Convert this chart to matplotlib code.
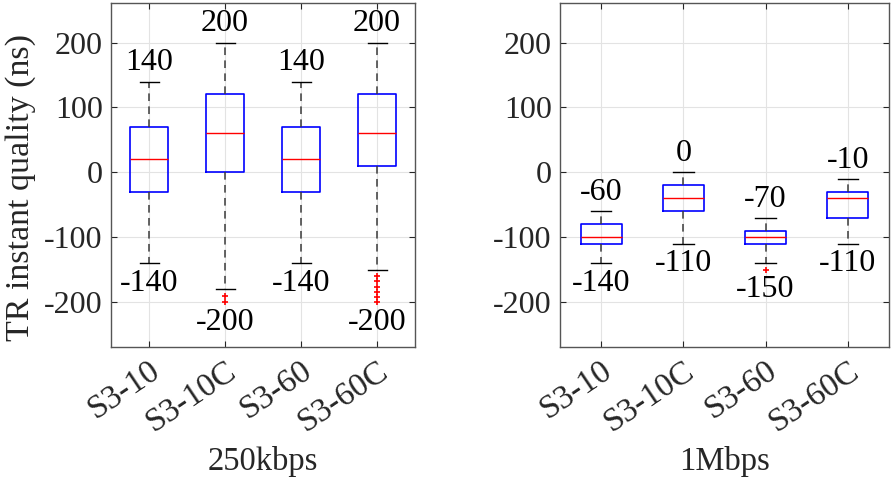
import matplotlib.pyplot as plt
from matplotlib.transforms import ScaledTranslation

plt.rcParams['font.family'] = ['Liberation Serif', 'DejaVu Serif']
plt.rcParams['axes.unicode_minus'] = False

labels = ['S3-10', 'S3-10C', 'S3-60', 'S3-60C']
groups = ['250kbps', '1Mbps']

# box statistics (ns)
q1 = {'250kbps': [-30, 0, -30, 10], '1Mbps': [-110, -60, -110, -70]}
med = {'250kbps': [20, 60, 20, 60], '1Mbps': [-100, -40, -100, -40]}
q3 = {'250kbps': [70, 120, 70, 120], '1Mbps': [-80, -20, -90, -30]}
whislo = {'250kbps': [-140, -180, -140, -150], '1Mbps': [-140, -110, -140, -110]}
whishi = {'250kbps': [140, 200, 140, 200], '1Mbps': [-60, 0, -70, -10]}
fliers = {
    '250kbps': [[], [-190, -200], [], [-160, -168, -176, -184, -192, -200]],
    '1Mbps': [[], [], [-150], []],
}

fig = plt.figure(figsize=(8.91, 4.79), dpi=100)
positions = [[0.1246, 0.2756, 0.3412, 0.7182], [0.6285, 0.2756, 0.3692, 0.7182]]
dark = '#262626'

for pos, g in zip(positions, groups):
    ax = fig.add_axes(pos)
    stats = []
    for i, name in enumerate(labels):
        stats.append({'label': name, 'q1': q1[g][i], 'med': med[g][i], 'q3': q3[g][i],
                      'whislo': whislo[g][i], 'whishi': whishi[g][i],
                      'fliers': fliers[g][i]})
    ax.bxp(stats, positions=range(1, 5), widths=0.5, showfliers=True,
           boxprops=dict(color='blue', linewidth=1.2),
           medianprops=dict(color='red', linewidth=1.0),
           whiskerprops=dict(color='#3a3a3a', linewidth=1.1, linestyle=(0, (5, 3.5))),
           capprops=dict(color='black', linewidth=1.0),
           flierprops=dict(marker='+', markeredgecolor='red', markersize=5,
                           markeredgewidth=1.2, linestyle='none'),
           capwidths=0.25, zorder=3)

    # max / min annotations
    for i in range(4):
        allv = [whislo[g][i], whishi[g][i]] + fliers[g][i]
        hi, lo = max(allv), min(allv)
        ax.annotate(f'{hi:d}', (i + 1, hi), xytext=(0, 3), textcoords='offset points',
                    ha='center', va='bottom', fontsize=23, color='black')
        ax.annotate(f'{lo:d}', (i + 1, lo), xytext=(0, -4), textcoords='offset points',
                    ha='center', va='top', fontsize=23, color='black')

    ax.set_xlim(0.5, 4.5)
    ax.set_ylim(-269, 261)
    ax.set_yticks([-200, -100, 0, 100, 200])
    ax.set_xticks(range(1, 5))
    ax.set_xticklabels(labels, rotation=34, ha='right', va='top', rotation_mode='anchor',
                       fontsize=24)
    shift = ScaledTranslation(12 / 100, -22 / 100, fig.dpi_scale_trans)
    for t in ax.get_xticklabels():
        t.set_transform(t.get_transform() + shift)
    ax.tick_params(direction='in', length=4, width=0.8, color=dark, labelsize=23,
                   labelcolor=dark, top=True, right=True, pad=6)
    ax.tick_params(axis='x', labelsize=24)
    ax.grid(True, color='#e3e3e3', linewidth=0.8, zorder=0)
    ax.set_axisbelow(True)
    for s in ax.spines.values():
        s.set_color('#555555')
        s.set_linewidth(1.0)
    ax.set_xlabel(g, fontsize=23.5, color=dark, va='center')
    ax.xaxis.set_label_coords(0.5, -0.334)
    if g == '250kbps':
        ax.set_ylabel('TR instant quality (ns)', fontsize=24.5, color=dark, va='center')
        ax.yaxis.set_label_coords(-0.296, 0.465)

fig.savefig('out.png', dpi=100)
